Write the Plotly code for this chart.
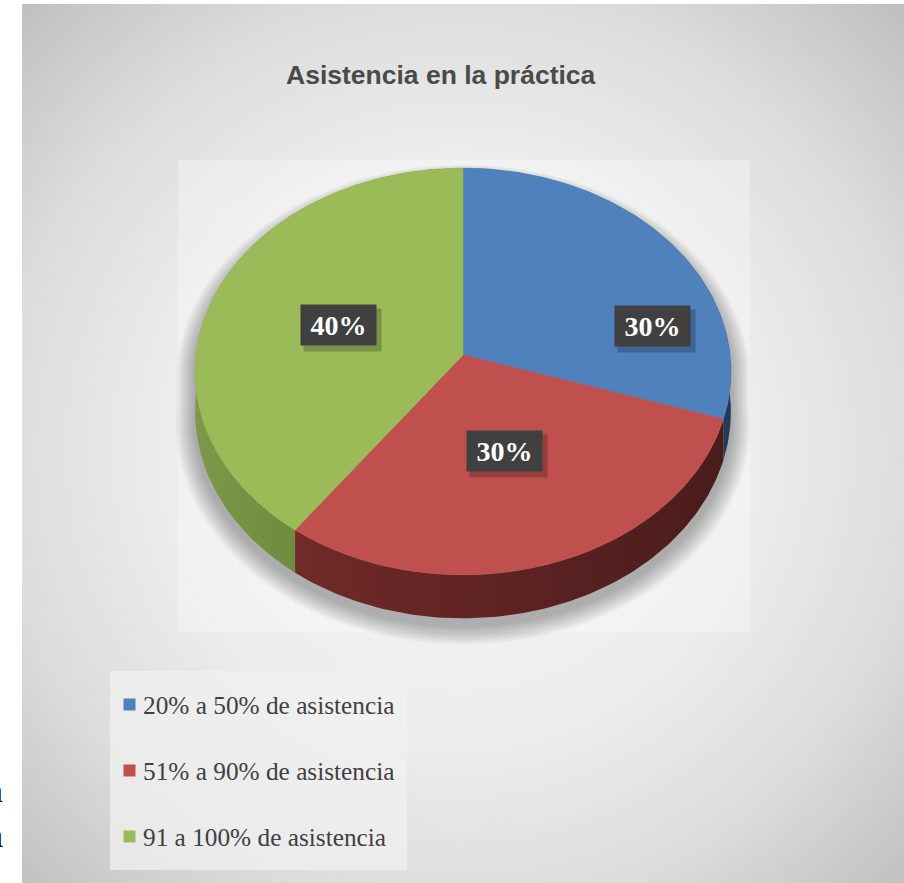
import math
import plotly.graph_objects as go

# ---- data -------------------------------------------------------------
categories = ["20% a 50% de asistencia", "51% a 90% de asistencia", "91 a 100% de asistencia"]
values = [30, 30, 40]
title_text = "Asistencia en la práctica"

# ---- styling ----------------------------------------------------------
top_colors = ["#4f81bd", "#c0504d", "#9bbb59"]
side_colors = [("#33557f", "#22395a"), ("#702a29", "#4a1c1c"), ("#7d9848", "#5d752f")]
label_place = [(0.875, 0.245), (0.5, 0.5), (0.49, 0.48)]  # (horizontal, vertical) radius fraction

W, H = 904, 883
X0, Y0 = 22, 4          # chart area top-left corner in the page

# 3D pie projection
CX, CY = 463, 355
RX, RY, K = 267, 202, 0.081
DEPTH = 40


def proj(theta, r=1.0, drop=0.0, scale=1.0, dx=0.0, dy=0.0):
    t = math.radians(theta)
    u, v = r * math.sin(t), -r * math.cos(t)
    w = 1 - K * v
    return CX + dx + scale * RX * u / w, CY + dy + scale * (RY * v + drop) / w


def arc(a0, a1, step=1.0):
    n = max(2, int(abs(a1 - a0) / step) + 1)
    return [a0 + (a1 - a0) * i / (n - 1) for i in range(n)]


total = sum(values)
bounds = []
acc = 0
for v in values:
    a0 = 360 * acc / total
    acc += v
    bounds.append((a0, 360 * acc / total))

fig = go.Figure()

# chart area background (radial grey gradient)
GX, GY, GR = 460, 450, 640
fig.add_trace(go.Scatter(
    x=[GX - GR, GX + GR, GX + GR, GX - GR, GX - GR],
    y=[GY - GR, GY - GR, GY + GR, GY + GR, GY - GR],
    mode="lines", line=dict(width=0), fill="toself",
    fillgradient=dict(type="radial",
                      colorscale=[[0, "#f7f7f7"], [0.45, "#ededed"], [0.72, "#dcdcdc"], [1, "#bdbdbd"]]),
    hoverinfo="skip", showlegend=False))

# plot area (lighter panel behind the pie)
fig.add_trace(go.Scatter(
    x=[178, 750, 750, 178, 178], y=[160, 160, 632, 632, 160],
    mode="lines", line=dict(width=0), fill="toself", fillcolor="rgba(255,255,255,0.28)",
    hoverinfo="skip", showlegend=False))

# soft shadow around the pie silhouette
for i in range(9):
    s = 1.0 + 0.008 * (i + 1)
    xs, ys = [], []
    for th in arc(-90, 90, 2):
        x, y = proj(th, scale=s, dy=10)
        xs.append(x); ys.append(y)
    for th in arc(90, 270, 2):
        x, y = proj(th, drop=DEPTH, scale=s, dy=7)
        xs.append(x); ys.append(y)
    xs.append(xs[0]); ys.append(ys[0])
    fig.add_trace(go.Scatter(x=xs, y=ys, mode="lines", line=dict(width=0), fill="toself",
                             fillcolor="rgba(0,0,0,0.035)", hoverinfo="skip", showlegend=False))

# slice walls
for (a0, a1), (cl, cr) in zip(bounds, side_colors):
    ths = arc(a0, a1)
    top = [proj(t) for t in ths]
    bot = [proj(t, drop=DEPTH) for t in reversed(ths)]
    pts = top + bot + [top[0]]
    fig.add_trace(go.Scatter(
        x=[p[0] for p in pts], y=[p[1] for p in pts],
        mode="lines", line=dict(width=0), fill="toself",
        fillgradient=dict(type="horizontal", colorscale=[[0, cl], [1, cr]]),
        hoverinfo="skip", showlegend=False))

# slice tops
for (a0, a1), c in zip(bounds, top_colors):
    pts = [(CX, CY)] + [proj(t) for t in arc(a0, a1)] + [(CX, CY)]
    fig.add_trace(go.Scatter(
        x=[p[0] for p in pts], y=[p[1] for p in pts],
        mode="lines", line=dict(width=0.6, color=c), fill="toself", fillcolor=c,
        hoverinfo="skip", showlegend=False))

annotations = []

# data labels
for (a0, a1), v, (fx, fy) in zip(bounds, values, label_place):
    mid = math.radians((a0 + a1) / 2)
    lx = CX + RX * fx * math.sin(mid)
    ly = CY - RY * fy * math.cos(mid)
    pct = f"{round(100 * v / total)}%"
    annotations.append(dict(x=lx, y=ly, xref="x", yref="y", text=" ", showarrow=False,
                            width=75, height=40, bgcolor="rgba(0,0,0,0.22)",
                            xshift=4, yshift=-5))
    annotations.append(dict(x=lx, y=ly, xref="x", yref="y", text=f"<b>{pct}</b>", showarrow=False,
                            width=75, height=40, bgcolor="#404040", borderpad=0,
                            font=dict(family="Liberation Serif", size=28, color="#ffffff")))

# title
annotations.append(dict(x=441, y=75, xref="x", yref="y", text=f"<b>{title_text}</b>", showarrow=False,
                        font=dict(family="Liberation Sans", size=26.5, color="#4a4a4a")))

# legend
LEG_X0, LEG_Y0, LEG_X1, LEG_Y1 = 110, 671, 407, 870
ROW0, ROW_GAP = 704.5, 66
fig.add_trace(go.Scatter(
    x=[LEG_X0, LEG_X1, LEG_X1, LEG_X0, LEG_X0], y=[LEG_Y0, LEG_Y0, LEG_Y1, LEG_Y1, LEG_Y0],
    mode="lines", line=dict(width=0), fill="toself", fillcolor="rgba(240,240,240,0.75)",
    hoverinfo="skip", showlegend=False))
rows = [ROW0 + ROW_GAP * i for i in range(len(categories))]
fig.add_trace(go.Scatter(
    x=[129.5] * len(categories), y=rows, mode="markers",
    marker=dict(symbol="square", size=12, color=top_colors, line=dict(width=0)),
    hoverinfo="skip", showlegend=False))
for name, ry in zip(categories, rows):
    annotations.append(dict(x=141, y=ry, xref="x", yref="y", text=name, showarrow=False,
                            xanchor="left", yanchor="middle",
                            font=dict(family="Liberation Serif", size=25.3, color="#404040")))

# page text partly visible at the left edge
for ch, py in (("n", 790), ("a", 835)):
    annotations.append(dict(x=5 / W, y=1 - py / H, xref="paper", yref="paper", text=ch,
                            showarrow=False, xanchor="right", yanchor="middle",
                            font=dict(family="Liberation Serif", size=34, color="#000000")))

fig.update_layout(
    width=W, height=H, margin=dict(l=0, r=0, t=0, b=0, pad=0),
    paper_bgcolor="#ffffff", plot_bgcolor="#ffffff",
    xaxis=dict(range=[X0, W], domain=[X0 / W, 1], visible=False, fixedrange=True),
    yaxis=dict(range=[H, Y0], domain=[0, 1 - Y0 / H], visible=False, fixedrange=True),
    annotations=annotations, showlegend=False,
)

fig.write_html("out.html")
